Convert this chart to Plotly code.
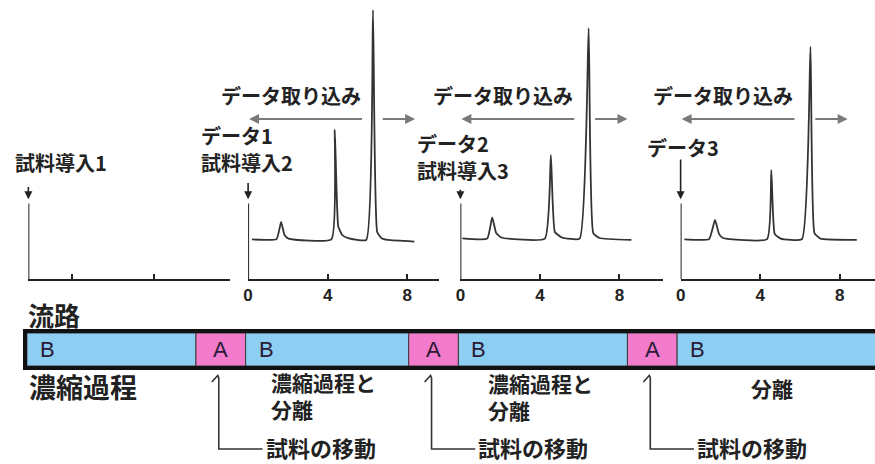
import plotly.graph_objects as go

W, H = 875, 464

# ---- chromatogram data: retention time (min) and detector signal ----
run1_t = [0.19, 1.43, 1.66, 1.83, 2.03, 4.19, 4.36, 4.53, 4.73, 5.03, 5.94, 6.28, 6.49, 6.73, 7.03, 8.36]
run1_s = [14.4, 14.5, 20.8, 16.0, 14.7, 14.4, 54.2, 19.3, 16.0, 14.9, 14.2, 97.8, 17.1, 14.7, 14.2, 13.6]

run2_t = [0.10, 1.35, 1.60, 1.80, 2.05, 4.25, 4.55, 4.75, 5.10, 6.00, 6.45, 6.68, 7.00, 8.60]
run2_s = [14.8, 14.7, 22.4, 16.7, 15.1, 14.7, 45.1, 17.1, 15.1, 14.7, 91.2, 16.7, 14.9, 14.2]

run3_t = [0.19, 1.43, 1.73, 1.93, 2.13, 4.35, 4.56, 4.73, 5.03, 6.10, 6.53, 6.73, 7.03, 8.86]
run3_s = [14.4, 14.5, 21.5, 16.4, 14.9, 14.5, 39.6, 16.4, 14.7, 14.5, 84.5, 16.7, 14.7, 14.2]

run_ticks = [0, 4, 8]
run_tick_text = ["0", "4", "8"]
idle_ticks = [2.2, 6.3]

# ---- flow-path timeline (B: concentration/separation, A: sample transfer) ----
flow_labels = ["B", "A", "B", "A", "B", "A", "B"]
flow_start = [0.0, 8.5, 11.0, 19.2, 21.7, 30.2, 32.7]
flow_end = [8.5, 11.0, 19.2, 21.7, 30.2, 32.7, 44.0]

# ---- text ----
inject_labels = ["試料導入1", "試料導入2", "試料導入3"]
data_labels = ["データ1", "データ2", "データ3"]
acq_label = "データ取り込み"
stage_notes = ["濃縮過程", "濃縮過程と<br>分離", "濃縮過程と<br>分離", "分離"]
transfer_label = "試料の移動"
flow_title = "流路"

JP = "Noto Sans CJK JP"
LAT = "Liberation Sans"
INK = "#222222"
BLUE = "#8DCFF2"
PINK = "#F27BCB"


def px_x(p):
    return p / W


def px_y(p):
    return 1 - p / H


def label(x_px, y_px, text, size, anchor="left", family=JP, bold=True):
    fig.add_annotation(
        x=px_x(x_px), y=px_y(y_px), xref="paper", yref="paper",
        text=f"<b>{text}</b>" if bold else text,
        xanchor=anchor, yanchor="middle", align="left", showarrow=False,
        borderpad=0, font=dict(family=family, size=size, color=INK),
    )


fig = go.Figure()

# panel geometry (pixel spans of the four time axes)
panels = [
    dict(x0=23.5, x1=226.0),
    dict(x0=244.5, x1=436.0),
    dict(x0=458.0, x1=662.0),
    dict(x0=679.5, x1=875.0),
]
PX_PER_MIN = 20.0
Y_BOTTOM, Y_TOP = 279.0, 4.0

runs = [None, (run1_t, run1_s), (run2_t, run2_s), (run3_t, run3_s)]

for i, p in enumerate(panels):
    n = "" if i == 0 else str(i + 1)
    xr = [0, (p["x1"] - p["x0"]) / PX_PER_MIN]
    fig.update_layout(**{
        f"xaxis{n}": dict(
            domain=[px_x(p["x0"]), px_x(p["x1"])], range=xr, anchor=f"y{n}",
            showline=True, linecolor=INK, linewidth=2, showgrid=False, zeroline=False,
            ticks="inside", ticklen=5, tickwidth=1.5, tickcolor=INK,
            tickvals=idle_ticks if i == 0 else run_ticks,
            ticktext=None if i == 0 else [f"<b>{t}</b>" for t in run_tick_text],
            showticklabels=i != 0,
            tickfont=dict(family=LAT, size=17, color=INK),
            fixedrange=True,
        ),
        f"yaxis{n}": dict(
            domain=[px_y(Y_BOTTOM), px_y(Y_TOP)], range=[0, 100], anchor=f"x{n}",
            visible=False, fixedrange=True,
        ),
    })
    # vertical signal axis stub
    fig.add_shape(type="line", xref=f"x{n}", yref=f"y{n}", x0=0, x1=0, y0=0, y1=27.5,
                  line=dict(color=INK, width=2))
    if runs[i] is not None:
        t, s = runs[i]
        fig.add_trace(go.Scatter(x=t, y=s, mode="lines", xaxis=f"x{n}", yaxis=f"y{n}",
                                 line=dict(color="#333333", width=1.8, shape="spline",
                                           smoothing=0.4),
                                 showlegend=False, hoverinfo="skip"))

        # data acquisition arrows (gap where the largest peak passes)
        for head, tail in [(0.05, 5.8), (8.4, 6.7)]:
            fig.add_annotation(x=head, y=58.2, ax=tail, ay=58.2, xref=f"x{n}", yref=f"y{n}",
                               axref=f"x{n}", ayref=f"y{n}", text="", showarrow=True,
                               arrowhead=2, arrowsize=1, arrowwidth=2, arrowcolor="#7a7a7a")
        label(p["x0"] + 2.15 * PX_PER_MIN, 95, acq_label, 20, anchor="center")

# sample-injection / data markers above each run
label(9, 162, inject_labels[0], 20)
label(196, 135, data_labels[0], 20)
label(196, 163, inject_labels[1], 20)
label(413, 143, data_labels[1], 20)
label(413, 170, inject_labels[2], 20)
label(645, 147, data_labels[2], 20)

for n, top in [("", 34.0), ("2", 35.5), ("3", 33.0), ("4", 44.0)]:
    fig.add_annotation(x=0, y=29.0, ax=0, ay=top, xref=f"x{n}", yref=f"y{n}",
                       axref=f"x{n}", ayref=f"y{n}", text="", showarrow=True,
                       arrowhead=2, arrowsize=1, arrowwidth=1.6, arrowcolor=INK)

# ---- flow-path bar ----
BAR_TOP, BAR_BOT = 333.0, 366.0
fig.update_layout(
    xaxis5=dict(domain=[px_x(22), 1.0], range=[0, (W - 22) / PX_PER_MIN], anchor="y5",
                showline=True, mirror=True, linecolor="#111111", linewidth=3.5,
                showgrid=False, zeroline=False, showticklabels=False, ticks="", fixedrange=True),
    yaxis5=dict(domain=[px_y(BAR_BOT), px_y(BAR_TOP)], range=[-0.5, 0.5], anchor="x5",
                showline=True, linecolor="#111111", linewidth=3.5,
                showgrid=False, zeroline=False, showticklabels=False, ticks="", fixedrange=True),
)
fig.add_trace(go.Bar(
    y=[0] * len(flow_labels),
    x=[e - s for s, e in zip(flow_start, flow_end)],
    base=flow_start, orientation="h", width=1.0,
    marker=dict(color=[BLUE if l == "B" else PINK for l in flow_labels],
                line=dict(color="#3a3a3a", width=1)),
    xaxis="x5", yaxis="y5", showlegend=False, hoverinfo="skip",
))
for lab, s, e in zip(flow_labels, flow_start, flow_end):
    if lab == "A":
        fig.add_annotation(x=(s + e) / 2, y=0, xref="x5", yref="y5", text=lab,
                           showarrow=False, font=dict(family=LAT, size=22, color="#2a1a35"))
    else:
        fig.add_annotation(x=s + 0.55, y=0, xref="x5", yref="y5", text=lab, xanchor="left",
                           showarrow=False, font=dict(family=LAT, size=22, color="#2a1a35"))

label(22, 314, flow_title, 26)

# process notes under the bar
b_starts = [s for l, s in zip(flow_labels, flow_start) if l == "B"]


def bar_px(u):
    return 22 + u * PX_PER_MIN


label(bar_px(b_starts[0]) + 1, 386, stage_notes[0], 27)
label(bar_px(b_starts[1]) + 25, 395, stage_notes[1], 21)
label(bar_px(b_starts[2]) + 29, 396, stage_notes[2], 21)
label(bar_px(b_starts[3]) + 95, 388, stage_notes[3], 21, anchor="center")

# sample-transfer leaders from each A segment
for lab, s, e in zip(flow_labels, flow_start, flow_end):
    if lab != "A":
        continue
    cx = (s + e) / 2 - 0.1
    path = (f"M {cx - 0.35},{px_y(382)} L {cx - 0.05},{px_y(375.5)} "
            f"L {cx},{px_y(378)} L {cx},{px_y(449)} L {cx + 2.2},{px_y(449)}")
    fig.add_shape(type="path", xref="x5", yref="paper", path=path,
                  line=dict(color="#333333", width=1.6))
    label(bar_px(cx) + 46, 447, transfer_label, 22)

fig.update_layout(
    width=W, height=H, margin=dict(l=0, r=0, t=0, b=0),
    paper_bgcolor="white", plot_bgcolor="rgba(0,0,0,0)",
    showlegend=False, barmode="overlay",
)

fig.write_html("out.html")
